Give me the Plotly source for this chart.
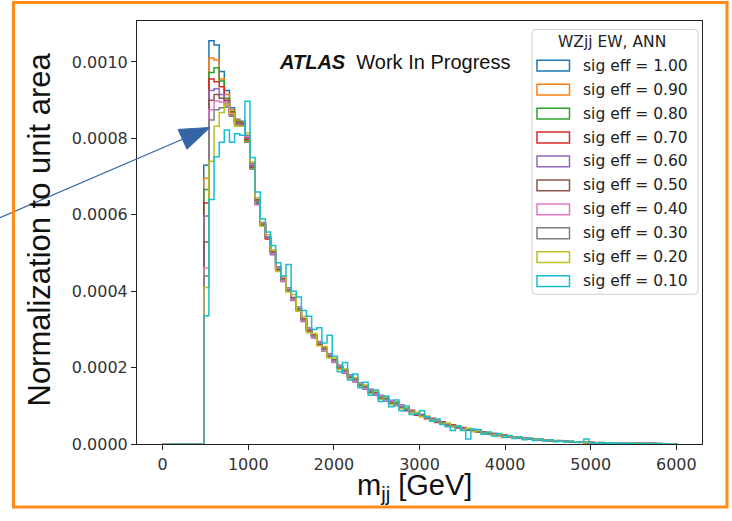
import numpy as np
import plotly.graph_objects as go

# Histogram binning: 100 bins of 60 GeV over 0-6000 GeV; bins below 480 GeV are empty
RANGE_LO, RANGE_HI, BIN_WIDTH = 0, 6000, 60
FIRST_FILLED_BIN = 8
SCALE = 1e-6  # values below are stored in units of 1e-6

labels = ["sig eff = 1.00", "sig eff = 0.90", "sig eff = 0.80", "sig eff = 0.70",
          "sig eff = 0.60", "sig eff = 0.50", "sig eff = 0.40", "sig eff = 0.30",
          "sig eff = 0.20", "sig eff = 0.10"]
colors = ["#1f77b4", "#ff7f0e", "#2ca02c", "#d62728", "#9467bd",
          "#8c564b", "#e377c2", "#7f7f7f", "#bcbd22", "#17becf"]

eff_100 = [730, 1055, 1044, 975, 925, 880, 850, 845, 790, 720, 632, 575, 540,
           500, 460, 430, 405, 380, 355, 325, 300, 282, 265, 248, 233, 218,
           203, 190, 178, 167, 157, 148, 140, 132, 124, 117, 111, 105, 99,
           91, 87, 79, 76, 69, 66, 59, 57, 51, 49, 44, 42, 38,
           36, 33, 31, 28, 27, 24, 23, 20, 19, 17, 16, 14, 13,
           12, 11, 10, 9, 8, 8, 7, 6, 6, 5, 5, 4, 4,
           4, 3, 3, 3, 3, 2, 2, 2, 2, 2, 1, 1, 1, 1]
eff_090 = [696, 1010, 1005, 955, 915, 875, 848, 842, 792, 722, 635, 577, 538,
           503, 457, 433, 402, 383, 352, 328, 297, 285, 262, 251, 230, 221,
           200, 193, 175, 170, 154, 151, 137, 135, 121, 120, 108, 108, 96,
           89, 88, 77, 77, 68, 67, 58, 58, 50, 50, 43, 43, 37,
           37, 32, 32, 27, 28, 23, 24, 19, 20, 16, 17, 13, 14,
           11, 12, 9, 10, 8, 8, 7, 7, 5, 6, 4, 5, 4,
           4, 3, 4, 3, 3, 2, 3, 2, 2, 2, 1, 2, 1, 1]
eff_080 = [666, 972, 985, 950, 905, 870, 845, 840, 795, 724, 630, 579, 542,
           497, 463, 427, 408, 377, 358, 322, 303, 279, 268, 245, 236, 215,
           206, 187, 181, 164, 160, 145, 143, 129, 127, 114, 114, 102, 102,
           93, 85, 81, 74, 71, 64, 61, 55, 53, 47, 46, 40, 40,
           34, 34, 29, 29, 26, 25, 21, 21, 18, 18, 15, 15, 12,
           13, 10, 11, 8, 9, 7, 8, 6, 6, 5, 5, 4, 4,
           3, 4, 3, 3, 2, 3, 2, 2, 2, 1, 2, 1, 1, 1]
eff_070 = [631, 955, 948, 935, 900, 868, 842, 838, 798, 726, 638, 574, 537,
           504, 456, 434, 401, 384, 351, 329, 296, 286, 261, 252, 229, 222,
           199, 194, 174, 171, 153, 152, 136, 136, 120, 121, 107, 109, 95,
           88, 89, 76, 78, 67, 68, 57, 59, 49, 51, 43, 44, 37,
           37, 32, 32, 27, 28, 23, 24, 19, 20, 16, 17, 13, 14,
           11, 12, 9, 9, 8, 8, 7, 6, 6, 5, 5, 4, 4,
           4, 3, 3, 3, 3, 2, 2, 2, 2, 2, 1, 1, 1, 1]
eff_060 = [597, 925, 930, 915, 895, 865, 840, 836, 800, 728, 628, 580, 543,
           496, 464, 426, 409, 376, 359, 321, 304, 278, 269, 244, 237, 214,
           207, 186, 182, 163, 161, 144, 144, 128, 128, 113, 115, 101, 103,
           94, 84, 82, 73, 72, 63, 62, 54, 54, 46, 47, 39, 41,
           34, 35, 29, 30, 25, 25, 21, 21, 18, 18, 15, 15, 12,
           13, 10, 11, 9, 8, 8, 7, 6, 6, 5, 5, 4, 4,
           4, 3, 3, 3, 3, 2, 2, 2, 2, 2, 1, 1, 1, 1]
eff_050 = [529, 900, 915, 905, 890, 862, 838, 835, 802, 730, 640, 572, 539,
           502, 458, 432, 403, 382, 354, 327, 299, 284, 263, 250, 231, 219,
           201, 192, 176, 169, 155, 150, 138, 134, 122, 119, 109, 107, 97,
           90, 87, 78, 77, 68, 67, 58, 58, 50, 50, 43, 43, 37,
           36, 33, 31, 28, 27, 24, 23, 20, 19, 17, 16, 14, 13,
           12, 11, 10, 9, 8, 8, 7, 6, 6, 5, 5, 4, 4,
           4, 3, 3, 3, 3, 2, 2, 2, 2, 2, 1, 1, 1, 1]
eff_040 = [461, 875, 898, 895, 885, 860, 836, 834, 805, 732, 626, 578, 541,
           498, 462, 428, 407, 378, 357, 323, 302, 280, 267, 246, 235, 216,
           205, 188, 180, 165, 159, 146, 142, 130, 126, 115, 113, 103, 101,
           92, 86, 80, 75, 70, 65, 60, 56, 52, 48, 45, 41, 39,
           35, 34, 30, 29, 26, 25, 22, 20, 19, 17, 16, 14, 13,
           12, 11, 10, 9, 8, 8, 7, 6, 6, 5, 5, 4, 4,
           4, 3, 3, 3, 3, 2, 2, 2, 2, 2, 1, 1, 1, 1]
eff_030 = [440, 848, 875, 880, 882, 858, 835, 833, 808, 734, 636, 576, 540,
           501, 459, 431, 404, 381, 354, 326, 299, 283, 264, 249, 232, 219,
           202, 191, 177, 168, 156, 149, 139, 133, 123, 118, 110, 106, 98,
           91, 87, 79, 76, 69, 66, 59, 57, 51, 49, 44, 42, 38,
           36, 33, 31, 28, 27, 24, 23, 20, 19, 17, 16, 14, 13,
           12, 11, 10, 9, 8, 8, 7, 6, 6, 5, 5, 4, 4,
           4, 3, 3, 3, 3, 2, 2, 2, 2, 2, 1, 1, 1, 1]
eff_020 = [410, 740, 832, 868, 890, 865, 832, 832, 815, 738, 645, 570, 548,
           508, 452, 440, 398, 392, 348, 335, 292, 290, 258, 256, 226, 225,
           196, 197, 171, 174, 150, 155, 133, 139, 117, 124, 104, 111, 93,
           96, 82, 84, 72, 74, 62, 64, 53, 56, 45, 48, 38, 42,
           33, 36, 28, 31, 24, 26, 20, 22, 17, 19, 14, 16, 12,
           13, 10, 11, 8, 9, 7, 8, 6, 7, 5, 5, 4, 5,
           3, 4, 3, 3, 2, 3, 2, 2, 2, 1, 2, 1, 1, 1]
eff_010 = [336, 640, 752, 790, 822, 790, 812, 808, 897, 750, 660, 590, 555,
           520, 475, 440, 470, 400, 385, 350, 335, 300, 305, 265, 285, 230,
           190, 214, 168, 184, 148, 162, 128, 142, 112, 126, 98, 116, 88,
           100, 78, 80, 88, 72, 60, 66, 52, 46, 36, 48, 36, 14,
           40, 38, 26, 32, 22, 28, 18, 23, 15, 19, 12, 16, 10,
           14, 9, 12, 7, 10, 6, 8, 5, 7, 14, 4, 3, 5,
           3, 4, 2, 3, 2, 3, 1, 2, 2, 1, 2, 1, 1, 1]

series = [eff_100, eff_090, eff_080, eff_070, eff_060,
          eff_050, eff_040, eff_030, eff_020, eff_010]

W, H = 732, 521
X_RANGE = [-300, 6300]
Y_RANGE = [0, 0.001108]
x_ticks = [0, 1000, 2000, 3000, 4000, 5000, 6000]
y_ticks = [0.0, 0.0002, 0.0004, 0.0006, 0.0008, 0.0010]

def px(x):
    return x / W

def py(y):
    return 1 - y / H

fig = go.Figure()

n_bins = (RANGE_HI - RANGE_LO) // BIN_WIDTH
edges = RANGE_LO + BIN_WIDTH * np.arange(n_bins + 1)
for name, color, vals in zip(labels, colors, series):
    counts = [0.0] * FIRST_FILLED_BIN + [v * SCALE for v in vals]
    counts = counts + [0.0] * (n_bins - len(counts))
    # outline of a step histogram: rise from the baseline, step across, drop back down
    xs = [edges[0]] + list(edges[:-1]) + [edges[-1]]
    ys = [0.0] + counts + [0.0]
    fig.add_trace(go.Scatter(x=xs, y=ys, mode="lines", name=name,
                             line=dict(color=color, width=1.5, shape="hv"),
                             showlegend=False, hoverinfo="skip"))

tick_font = dict(family="DejaVu Sans", size=16, color="#333333")
fig.update_layout(
    width=W, height=H,
    margin=dict(l=0, r=0, t=0, b=0),
    paper_bgcolor="white", plot_bgcolor="white",
    xaxis=dict(domain=[px(137), px(702)], range=X_RANGE, tickvals=x_ticks,
               ticktext=[str(t) for t in x_ticks], showgrid=False, zeroline=False,
               showline=True, linecolor="#222222", linewidth=1, mirror=True,
               ticks="outside", ticklen=5, tickcolor="#222222", tickfont=tick_font),
    yaxis=dict(domain=[py(453), py(21)], range=Y_RANGE, tickvals=y_ticks,
               tickformat=".4f", showgrid=False, zeroline=False,
               showline=True, linecolor="#222222", linewidth=1, mirror=True,
               ticks="outside", ticklen=5, tickcolor="#222222", tickfont=tick_font),
)

def note(text, x, y, size, family="Liberation Sans", color="#111111",
         xanchor="center", angle=0):
    fig.add_annotation(text=text, x=px(x), y=py(y), xref="paper", yref="paper",
                       xanchor=xanchor, yanchor="middle", textangle=angle,
                       showarrow=False, font=dict(family=family, size=size, color=color))

# axis titles
note("Normalization to unit area", 40, 234, 31, angle=-90)
note("m<sub>jj</sub> [GeV]", 414, 497, 29)

# experiment label
note("<b><i>ATLAS</i></b>  Work In Progress", 277, 63, 20, xanchor="left")

# legend box (rounded corners) with outlined patches
LEG_L, LEG_R, LEG_T, LEG_B, R = 532, 698, 30, 300, 4
legend_path = (
    f"M {px(LEG_L + R)},{py(LEG_T)} L {px(LEG_R - R)},{py(LEG_T)} "
    f"Q {px(LEG_R)},{py(LEG_T)} {px(LEG_R)},{py(LEG_T + R)} "
    f"L {px(LEG_R)},{py(LEG_B - R)} Q {px(LEG_R)},{py(LEG_B)} {px(LEG_R - R)},{py(LEG_B)} "
    f"L {px(LEG_L + R)},{py(LEG_B)} Q {px(LEG_L)},{py(LEG_B)} {px(LEG_L)},{py(LEG_B - R)} "
    f"L {px(LEG_L)},{py(LEG_T + R)} Q {px(LEG_L)},{py(LEG_T)} {px(LEG_L + R)},{py(LEG_T)} Z"
)
fig.add_shape(type="path", xref="paper", yref="paper", path=legend_path,
              line=dict(color="#d0d0d0", width=1), fillcolor="rgba(255,255,255,0.8)",
              layer="above")
note("WZjj EW, ANN", 612, 43, 15.5, family="DejaVu Sans", color="#222222")
ROW0, ROW_STEP = 67, 24.4
for i, (name, color) in enumerate(zip(labels, colors)):
    yc = ROW0 + i * ROW_STEP
    fig.add_shape(type="rect", xref="paper", yref="paper",
                  x0=px(537), x1=px(569.5), y0=py(yc + 5.5), y1=py(yc - 5.5),
                  line=dict(color=color, width=1.5), fillcolor="rgba(0,0,0,0)",
                  layer="above")
    note(name, 581, yc, 15.5, family="DejaVu Sans", color="#222222", xanchor="left")

# pointer arrow
ARROW = "#3465a4"
tip = np.array([210.0, 130.0])
tail = np.array([0.0, 222.0])
d = (tip - tail) / np.linalg.norm(tip - tail)
nrm = np.array([-d[1], d[0]])
base = tip - 30 * d
c1 = base + 11 * nrm
c2 = base - 11 * nrm
fig.add_shape(type="line", xref="paper", yref="paper",
              x0=px(tail[0]), y0=py(tail[1]), x1=px(base[0]), y1=py(base[1]),
              line=dict(color=ARROW, width=1.2), layer="above")
path = "M {:.4f},{:.4f} L {:.4f},{:.4f} L {:.4f},{:.4f} Z".format(
    px(tip[0]), py(tip[1]), px(c1[0]), py(c1[1]), px(c2[0]), py(c2[1]))
fig.add_shape(type="path", xref="paper", yref="paper", path=path,
              line=dict(color=ARROW, width=1), fillcolor=ARROW, layer="above")

# orange frame
fig.add_shape(type="rect", xref="paper", yref="paper",
              x0=px(13.5), x1=px(727), y0=py(517), y1=py(2.5),
              line=dict(color="#ff8c1a", width=3), layer="above")

fig.write_html("out.html")
